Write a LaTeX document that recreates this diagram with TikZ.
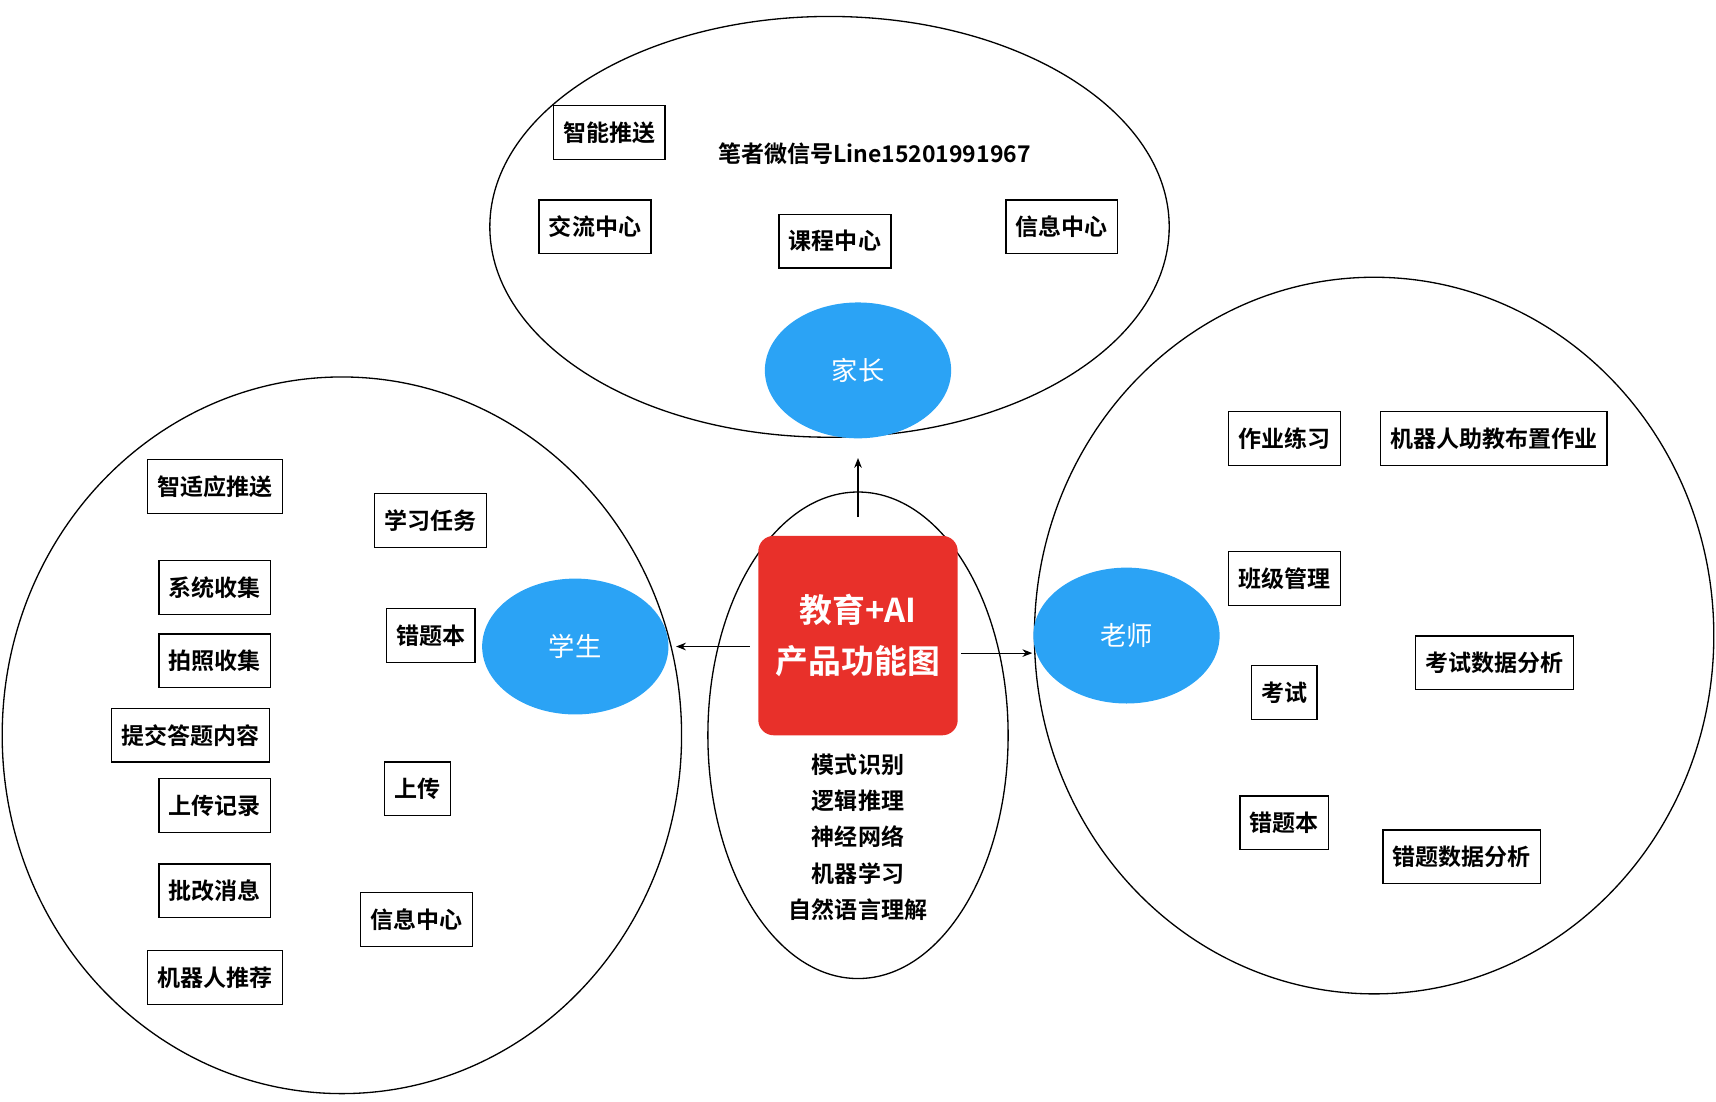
\documentclass[tikz,border=0pt]{standalone}
\usepackage{fontspec}
\setmainfont{Noto Sans CJK SC}[BoldFont={* Bold}]
\usetikzlibrary{arrows.meta}
\definecolor{rred}{HTML}{E8302A}
\definecolor{bblue}{HTML}{2BA3F5}
\tikzset{
 bx/.style={draw,line width=1.2pt,inner xsep=9pt,minimum height=49pt,font=\fontsize{21}{24}\selectfont\bfseries},
 txt/.style={font=\fontsize{21}{24}\selectfont\bfseries},
 blob/.style={ellipse,fill=bblue,minimum width=170pt,minimum height=124pt,text=white,font=\fontsize{24}{28}\selectfont},
 ring/.style={draw,line width=1.2pt},
 arr/.style={-{Stealth[length=9pt,width=7pt]},line width=1pt}
}
\usetikzlibrary{shapes.geometric}
\begin{document}
\begin{tikzpicture}[x=1pt,y=-1pt]
\useasboundingbox (0,0) rectangle (1566,1005);
\draw[ring] (757,207) ellipse (310 and 192);
\draw[ring] (312,671) ellipse (310 and 327);
\draw[ring] (1254,580) ellipse (310 and 327);
\draw[ring] (783,671) ellipse (137 and 222);
\node[fill=rred,rounded corners=14pt,minimum width=182pt,minimum height=182pt,text=white,align=center,font=\fontsize{30}{46}\selectfont\bfseries] (core) at (783,580) {教育+AI\\产品功能图};
\node[blob] (p) at (783,338) {家长};
\node[blob] (s) at (525,590) {学生};
\node[blob] (t) at (1028,580) {老师};
\coordinate (a1) at (783,472); \coordinate (a1e) at (783,418);
\coordinate (a2) at (684,590); \coordinate (a2e) at (617,590);
\coordinate (a3) at (877,596); \coordinate (a3e) at (942,596);
\draw[arr] (a1) -- (a1e);
\draw[arr] (a2) -- (a2e);
\draw[arr] (a3) -- (a3e);
\node[txt,align=center,font=\fontsize{21}{33}\selectfont\bfseries] (tech) at (783,764) {模式识别\\逻辑推理\\神经网络\\机器学习\\自然语言理解};
\node[bx] (u1) at (556,121) {智能推送};
\node[txt] (wx) at (798,140) {笔者微信号Line15201991967};
\node[bx] (u2) at (543,207) {交流中心};
\node[bx] (u3) at (762,220) {课程中心};
\node[bx] (u4) at (969,207) {信息中心};
\node[bx] (l1) at (196,444) {智适应推送};
\node[bx] (l2) at (393,475) {学习任务};
\node[bx] (l3) at (196,536) {系统收集};
\node[bx] (l4) at (393,580) {错题本};
\node[bx] (l5) at (196,603) {拍照收集};
\node[bx] (l6) at (174,671) {提交答题内容};
\node[bx] (l7) at (196,735) {上传记录};
\node[bx] (l8) at (381,720) {上传};
\node[bx] (l9) at (196,813) {批改消息};
\node[bx] (l10) at (380,839) {信息中心};
\node[bx] (l11) at (196,892) {机器人推荐};
\node[bx] (r1) at (1172,400) {作业练习};
\node[bx] (r2) at (1363,400) {机器人助教布置作业};
\node[bx] (r3) at (1172,528) {班级管理};
\node[bx] (r4) at (1364,605) {考试数据分析};
\node[bx] (r5) at (1172,632) {考试};
\node[bx] (r6) at (1172,751) {错题本};
\node[bx] (r7) at (1334,782) {错题数据分析};
\end{tikzpicture}
\end{document}
